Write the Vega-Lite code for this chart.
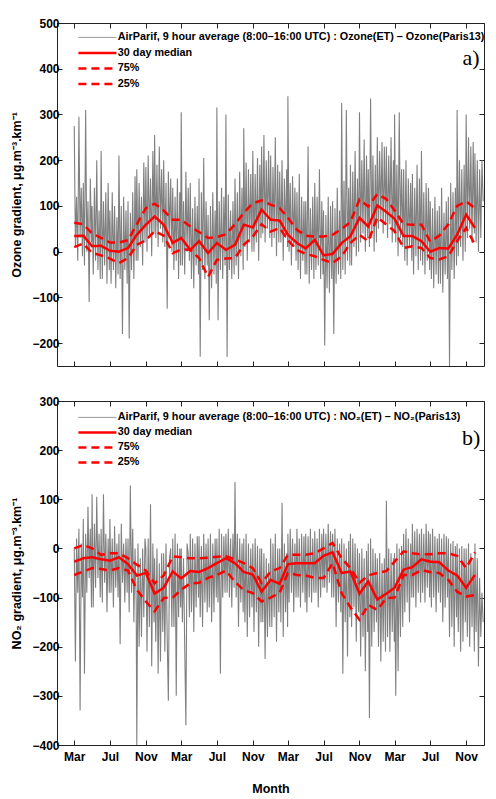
{
  "$schema": "https://vega.github.io/schema/vega-lite/v6.json",
  "background": "white",
  "padding": {"left": 10, "top": 16, "right": 5, "bottom": 5},
  "config": {
    "font": "Liberation Sans",
    "view": {"stroke": "#222", "strokeWidth": 1},
    "axis": {
      "domain": false, "grid": false, "ticks": true, "tickSize": -5, "tickColor": "#222", "tickWidth": 1,
      "labelFont": "Liberation Sans", "labelFontSize": 12, "labelFontWeight": "bold", "labelColor": "#000",
      "titleFont": "Liberation Sans", "titleFontSize": 12.5, "titleFontWeight": "bold", "titleColor": "#000"
    },
    "legend": {
      "orient": "none", "title": null, "symbolType": "stroke", "symbolSize": 1444,
      "labelFont": "Liberation Sans", "labelFontSize": 10.8, "labelFontWeight": "bold", "labelColor": "#000",
      "labelLimit": 1000, "labelOffset": 15, "padding": 0
    }
  },
  "datasets": {
    "ozoneDaily": [
      {"d":"2007-03-01","g":275},{"d":"2007-03-05","g":10},{"d":"2007-03-09","g":120},{"d":"2007-03-13","g":-20},{"d":"2007-03-17","g":295},{"d":"2007-03-21","g":30},{"d":"2007-03-25","g":140},{"d":"2007-03-29","g":-10},
      {"d":"2007-04-01","g":150},{"d":"2007-04-05","g":-30},{"d":"2007-04-09","g":310},{"d":"2007-04-13","g":0},{"d":"2007-04-17","g":110},{"d":"2007-04-21","g":-110},{"d":"2007-04-25","g":160},{"d":"2007-04-29","g":20},
      {"d":"2007-05-01","g":100},{"d":"2007-05-05","g":-50},{"d":"2007-05-09","g":140},{"d":"2007-05-13","g":-20},{"d":"2007-05-17","g":200},{"d":"2007-05-21","g":-40},{"d":"2007-05-25","g":90},{"d":"2007-05-29","g":-60},
      {"d":"2007-06-01","g":220},{"d":"2007-06-05","g":-60},{"d":"2007-06-09","g":110},{"d":"2007-06-13","g":-30},{"d":"2007-06-17","g":130},{"d":"2007-06-21","g":-70},{"d":"2007-06-25","g":150},{"d":"2007-06-29","g":-40},
      {"d":"2007-07-01","g":90},{"d":"2007-07-05","g":-70},{"d":"2007-07-09","g":130},{"d":"2007-07-13","g":-40},{"d":"2007-07-17","g":100},{"d":"2007-07-21","g":-80},{"d":"2007-07-25","g":75},{"d":"2007-07-29","g":-50},
      {"d":"2007-08-01","g":210},{"d":"2007-08-05","g":-60},{"d":"2007-08-09","g":100},{"d":"2007-08-13","g":-180},{"d":"2007-08-17","g":120},{"d":"2007-08-21","g":-40},{"d":"2007-08-25","g":90},{"d":"2007-08-29","g":-70},
      {"d":"2007-09-01","g":110},{"d":"2007-09-05","g":-190},{"d":"2007-09-09","g":85},{"d":"2007-09-13","g":-40},{"d":"2007-09-17","g":130},{"d":"2007-09-21","g":-60},{"d":"2007-09-25","g":165},{"d":"2007-09-29","g":-20},
      {"d":"2007-10-01","g":180},{"d":"2007-10-05","g":-20},{"d":"2007-10-09","g":150},{"d":"2007-10-13","g":10},{"d":"2007-10-17","g":120},{"d":"2007-10-21","g":-30},{"d":"2007-10-25","g":195},{"d":"2007-10-29","g":20},
      {"d":"2007-11-01","g":185},{"d":"2007-11-05","g":0},{"d":"2007-11-09","g":210},{"d":"2007-11-13","g":30},{"d":"2007-11-17","g":160},{"d":"2007-11-21","g":-10},{"d":"2007-11-25","g":220},{"d":"2007-11-29","g":40},
      {"d":"2007-12-01","g":255},{"d":"2007-12-05","g":30},{"d":"2007-12-09","g":190},{"d":"2007-12-13","g":10},{"d":"2007-12-17","g":230},{"d":"2007-12-21","g":50},{"d":"2007-12-25","g":180},{"d":"2007-12-29","g":20},
      {"d":"2008-01-01","g":200},{"d":"2008-01-05","g":10},{"d":"2008-01-09","g":150},{"d":"2008-01-13","g":-125},{"d":"2008-01-17","g":175},{"d":"2008-01-21","g":30},{"d":"2008-01-25","g":160},{"d":"2008-01-29","g":0},
      {"d":"2008-02-01","g":140},{"d":"2008-02-05","g":-40},{"d":"2008-02-09","g":120},{"d":"2008-02-13","g":-20},{"d":"2008-02-17","g":160},{"d":"2008-02-21","g":-60},{"d":"2008-02-25","g":130},{"d":"2008-02-28","g":-30},
      {"d":"2008-03-01","g":305},{"d":"2008-03-05","g":-30},{"d":"2008-03-09","g":110},{"d":"2008-03-13","g":-50},{"d":"2008-03-17","g":175},{"d":"2008-03-21","g":0},{"d":"2008-03-25","g":140},{"d":"2008-03-29","g":-20},
      {"d":"2008-04-01","g":150},{"d":"2008-04-05","g":-60},{"d":"2008-04-09","g":95},{"d":"2008-04-13","g":-80},{"d":"2008-04-17","g":120},{"d":"2008-04-21","g":-30},{"d":"2008-04-25","g":100},{"d":"2008-04-29","g":-50},
      {"d":"2008-05-01","g":160},{"d":"2008-05-05","g":-230},{"d":"2008-05-09","g":130},{"d":"2008-05-13","g":-40},{"d":"2008-05-17","g":205},{"d":"2008-05-21","g":-60},{"d":"2008-05-25","g":110},{"d":"2008-05-29","g":-30},
      {"d":"2008-06-01","g":80},{"d":"2008-06-05","g":-150},{"d":"2008-06-09","g":100},{"d":"2008-06-13","g":-80},{"d":"2008-06-17","g":130},{"d":"2008-06-21","g":-50},{"d":"2008-06-25","g":90},{"d":"2008-06-29","g":-70},
      {"d":"2008-07-01","g":315},{"d":"2008-07-05","g":-150},{"d":"2008-07-09","g":110},{"d":"2008-07-13","g":-40},{"d":"2008-07-17","g":140},{"d":"2008-07-21","g":-60},{"d":"2008-07-25","g":120},{"d":"2008-07-29","g":-30},
      {"d":"2008-08-01","g":300},{"d":"2008-08-05","g":-230},{"d":"2008-08-09","g":125},{"d":"2008-08-13","g":-40},{"d":"2008-08-17","g":90},{"d":"2008-08-21","g":-60},{"d":"2008-08-25","g":110},{"d":"2008-08-29","g":-50},
      {"d":"2008-09-01","g":160},{"d":"2008-09-05","g":-30},{"d":"2008-09-09","g":130},{"d":"2008-09-13","g":-60},{"d":"2008-09-17","g":175},{"d":"2008-09-21","g":-10},{"d":"2008-09-25","g":140},{"d":"2008-09-29","g":-40},
      {"d":"2008-10-01","g":270},{"d":"2008-10-05","g":10},{"d":"2008-10-09","g":195},{"d":"2008-10-13","g":-20},{"d":"2008-10-17","g":180},{"d":"2008-10-21","g":20},{"d":"2008-10-25","g":170},{"d":"2008-10-29","g":0},
      {"d":"2008-11-01","g":220},{"d":"2008-11-05","g":0},{"d":"2008-11-09","g":170},{"d":"2008-11-13","g":20},{"d":"2008-11-17","g":205},{"d":"2008-11-21","g":-20},{"d":"2008-11-25","g":190},{"d":"2008-11-29","g":30},
      {"d":"2008-12-01","g":230},{"d":"2008-12-05","g":40},{"d":"2008-12-09","g":255},{"d":"2008-12-13","g":20},{"d":"2008-12-17","g":200},{"d":"2008-12-21","g":50},{"d":"2008-12-25","g":220},{"d":"2008-12-29","g":30},
      {"d":"2009-01-01","g":210},{"d":"2009-01-05","g":10},{"d":"2009-01-09","g":185},{"d":"2009-01-13","g":30},{"d":"2009-01-17","g":250},{"d":"2009-01-21","g":-10},{"d":"2009-01-25","g":190},{"d":"2009-01-29","g":20},
      {"d":"2009-02-01","g":175},{"d":"2009-02-05","g":20},{"d":"2009-02-09","g":200},{"d":"2009-02-13","g":-20},{"d":"2009-02-17","g":160},{"d":"2009-02-21","g":30},{"d":"2009-02-25","g":180},{"d":"2009-02-28","g":10},
      {"d":"2009-03-01","g":340},{"d":"2009-03-05","g":0},{"d":"2009-03-09","g":150},{"d":"2009-03-13","g":-30},{"d":"2009-03-17","g":165},{"d":"2009-03-21","g":10},{"d":"2009-03-25","g":140},{"d":"2009-03-29","g":-20},
      {"d":"2009-04-01","g":130},{"d":"2009-04-05","g":-40},{"d":"2009-04-09","g":170},{"d":"2009-04-13","g":-60},{"d":"2009-04-17","g":120},{"d":"2009-04-21","g":-20},{"d":"2009-04-25","g":110},{"d":"2009-04-29","g":-50},
      {"d":"2009-05-01","g":110},{"d":"2009-05-05","g":-50},{"d":"2009-05-09","g":230},{"d":"2009-05-13","g":-70},{"d":"2009-05-17","g":95},{"d":"2009-05-21","g":-40},{"d":"2009-05-25","g":120},{"d":"2009-05-29","g":-60},
      {"d":"2009-06-01","g":150},{"d":"2009-06-05","g":-40},{"d":"2009-06-09","g":120},{"d":"2009-06-13","g":-30},{"d":"2009-06-17","g":180},{"d":"2009-06-21","g":-60},{"d":"2009-06-25","g":110},{"d":"2009-06-29","g":-50},
      {"d":"2009-07-01","g":90},{"d":"2009-07-05","g":-205},{"d":"2009-07-09","g":80},{"d":"2009-07-13","g":-80},{"d":"2009-07-17","g":120},{"d":"2009-07-21","g":-90},{"d":"2009-07-25","g":100},{"d":"2009-07-29","g":-60},
      {"d":"2009-08-01","g":110},{"d":"2009-08-05","g":-180},{"d":"2009-08-09","g":95},{"d":"2009-08-13","g":-70},{"d":"2009-08-17","g":140},{"d":"2009-08-21","g":-50},{"d":"2009-08-25","g":90},{"d":"2009-08-29","g":-60},
      {"d":"2009-09-01","g":325},{"d":"2009-09-05","g":-40},{"d":"2009-09-09","g":155},{"d":"2009-09-13","g":-50},{"d":"2009-09-17","g":310},{"d":"2009-09-21","g":-20},{"d":"2009-09-25","g":140},{"d":"2009-09-29","g":-30},
      {"d":"2009-10-01","g":190},{"d":"2009-10-05","g":-30},{"d":"2009-10-09","g":175},{"d":"2009-10-13","g":10},{"d":"2009-10-17","g":220},{"d":"2009-10-21","g":-10},{"d":"2009-10-25","g":160},{"d":"2009-10-29","g":0},
      {"d":"2009-11-01","g":305},{"d":"2009-11-05","g":20},{"d":"2009-11-09","g":200},{"d":"2009-11-13","g":40},{"d":"2009-11-17","g":245},{"d":"2009-11-21","g":0},{"d":"2009-11-25","g":210},{"d":"2009-11-29","g":30},
      {"d":"2009-12-01","g":180},{"d":"2009-12-05","g":10},{"d":"2009-12-09","g":335},{"d":"2009-12-13","g":30},{"d":"2009-12-17","g":210},{"d":"2009-12-21","g":0},{"d":"2009-12-25","g":190},{"d":"2009-12-29","g":20},
      {"d":"2010-01-01","g":250},{"d":"2010-01-05","g":50},{"d":"2010-01-09","g":220},{"d":"2010-01-13","g":70},{"d":"2010-01-17","g":240},{"d":"2010-01-21","g":40},{"d":"2010-01-25","g":230},{"d":"2010-01-29","g":60},
      {"d":"2010-02-01","g":230},{"d":"2010-02-05","g":30},{"d":"2010-02-09","g":210},{"d":"2010-02-13","g":60},{"d":"2010-02-17","g":250},{"d":"2010-02-21","g":20},{"d":"2010-02-25","g":200},{"d":"2010-02-28","g":40},
      {"d":"2010-03-01","g":300},{"d":"2010-03-05","g":20},{"d":"2010-03-09","g":190},{"d":"2010-03-13","g":-10},{"d":"2010-03-17","g":305},{"d":"2010-03-21","g":30},{"d":"2010-03-25","g":180},{"d":"2010-03-29","g":10},
      {"d":"2010-04-01","g":180},{"d":"2010-04-05","g":-20},{"d":"2010-04-09","g":200},{"d":"2010-04-13","g":-30},{"d":"2010-04-17","g":160},{"d":"2010-04-21","g":10},{"d":"2010-04-25","g":150},{"d":"2010-04-29","g":-20},
      {"d":"2010-05-01","g":170},{"d":"2010-05-05","g":-50},{"d":"2010-05-09","g":140},{"d":"2010-05-13","g":-10},{"d":"2010-05-17","g":190},{"d":"2010-05-21","g":-40},{"d":"2010-05-25","g":160},{"d":"2010-05-29","g":-20},
      {"d":"2010-06-01","g":220},{"d":"2010-06-05","g":-30},{"d":"2010-06-09","g":130},{"d":"2010-06-13","g":-50},{"d":"2010-06-17","g":150},{"d":"2010-06-21","g":-20},{"d":"2010-06-25","g":140},{"d":"2010-06-29","g":-40},
      {"d":"2010-07-01","g":110},{"d":"2010-07-05","g":-60},{"d":"2010-07-09","g":95},{"d":"2010-07-13","g":-80},{"d":"2010-07-17","g":120},{"d":"2010-07-21","g":-50},{"d":"2010-07-25","g":90},{"d":"2010-07-29","g":-70},
      {"d":"2010-08-01","g":100},{"d":"2010-08-05","g":-70},{"d":"2010-08-09","g":140},{"d":"2010-08-13","g":-90},{"d":"2010-08-17","g":85},{"d":"2010-08-21","g":-50},{"d":"2010-08-25","g":110},{"d":"2010-08-29","g":-60},
      {"d":"2010-09-01","g":120},{"d":"2010-09-05","g":-250},{"d":"2010-09-09","g":150},{"d":"2010-09-13","g":-40},{"d":"2010-09-17","g":130},{"d":"2010-09-21","g":-60},{"d":"2010-09-25","g":140},{"d":"2010-09-29","g":-30},
      {"d":"2010-10-01","g":310},{"d":"2010-10-05","g":-10},{"d":"2010-10-09","g":200},{"d":"2010-10-13","g":10},{"d":"2010-10-17","g":180},{"d":"2010-10-21","g":-20},{"d":"2010-10-25","g":190},{"d":"2010-10-29","g":0},
      {"d":"2010-11-01","g":300},{"d":"2010-11-05","g":30},{"d":"2010-11-09","g":250},{"d":"2010-11-13","g":50},{"d":"2010-11-17","g":230},{"d":"2010-11-21","g":20},{"d":"2010-11-25","g":240},{"d":"2010-11-29","g":40},
      {"d":"2010-12-01","g":215},{"d":"2010-12-05","g":20},{"d":"2010-12-09","g":200},{"d":"2010-12-13","g":0},{"d":"2010-12-17","g":180},{"d":"2010-12-21","g":30},{"d":"2010-12-25","g":200},{"d":"2010-12-29","g":110}
    ],
    "ozoneMonthly": [
      {"d":"2007-03-01","m":34,"u":63,"l":10},{"d":"2007-04-01","m":35,"u":60,"l":18},{"d":"2007-05-01","m":12,"u":40,"l":-3},{"d":"2007-06-01","m":13,"u":30,"l":-8},
      {"d":"2007-07-01","m":2,"u":20,"l":-15},{"d":"2007-08-01","m":0,"u":20,"l":-25},{"d":"2007-09-01","m":8,"u":25,"l":-14},{"d":"2007-10-01","m":37,"u":60,"l":15},
      {"d":"2007-11-01","m":59,"u":95,"l":25},{"d":"2007-12-01","m":77,"u":105,"l":45},{"d":"2008-01-01","m":59,"u":90,"l":35},{"d":"2008-02-01","m":19,"u":70,"l":-3},
      {"d":"2008-03-01","m":30,"u":70,"l":5},{"d":"2008-04-01","m":4,"u":55,"l":4},{"d":"2008-05-01","m":23,"u":43,"l":-14},{"d":"2008-06-01","m":-3,"u":30,"l":-55},
      {"d":"2008-07-01","m":19,"u":32,"l":-18},{"d":"2008-08-01","m":4,"u":38,"l":-15},{"d":"2008-09-01","m":15,"u":60,"l":-14},{"d":"2008-10-01","m":59,"u":85,"l":15},
      {"d":"2008-11-01","m":53,"u":106,"l":33},{"d":"2008-12-01","m":92,"u":112,"l":60},{"d":"2009-01-01","m":70,"u":103,"l":44},{"d":"2009-02-01","m":68,"u":95,"l":52},
      {"d":"2009-03-01","m":37,"u":74,"l":25},{"d":"2009-04-01","m":19,"u":48,"l":4},{"d":"2009-05-01","m":7,"u":35,"l":-5},{"d":"2009-06-01","m":26,"u":33,"l":-10},
      {"d":"2009-07-01","m":-8,"u":33,"l":-18},{"d":"2009-08-01","m":-5,"u":37,"l":-25},{"d":"2009-09-01","m":19,"u":50,"l":-10},{"d":"2009-10-01","m":34,"u":65,"l":19},
      {"d":"2009-11-01","m":74,"u":114,"l":37},{"d":"2009-12-01","m":55,"u":99,"l":23},{"d":"2010-01-01","m":101,"u":126,"l":75},{"d":"2010-02-01","m":87,"u":115,"l":59},
      {"d":"2010-03-01","m":72,"u":90,"l":45},{"d":"2010-04-01","m":34,"u":60,"l":8},{"d":"2010-05-01","m":34,"u":59,"l":12},{"d":"2010-06-01","m":23,"u":59,"l":8},
      {"d":"2010-07-01","m":0,"u":22,"l":-14},{"d":"2010-08-01","m":8,"u":35,"l":-17},{"d":"2010-09-01","m":7,"u":60,"l":-10},{"d":"2010-10-01","m":37,"u":100,"l":23},
      {"d":"2010-11-01","m":81,"u":110,"l":52},{"d":"2010-12-01","m":52,"u":95,"l":15}
    ],
    "no2Daily": [
      {"d":"2007-03-01","g":0},{"d":"2007-03-05","g":-230},{"d":"2007-03-09","g":20},{"d":"2007-03-13","g":-90},{"d":"2007-03-17","g":40},{"d":"2007-03-21","g":-330},{"d":"2007-03-25","g":10},{"d":"2007-03-29","g":-100},
      {"d":"2007-04-01","g":60},{"d":"2007-04-05","g":-255},{"d":"2007-04-09","g":30},{"d":"2007-04-13","g":-90},{"d":"2007-04-17","g":85},{"d":"2007-04-21","g":-60},{"d":"2007-04-25","g":40},{"d":"2007-04-29","g":-120},
      {"d":"2007-05-01","g":110},{"d":"2007-05-05","g":-120},{"d":"2007-05-09","g":50},{"d":"2007-05-13","g":-80},{"d":"2007-05-17","g":105},{"d":"2007-05-21","g":-60},{"d":"2007-05-25","g":30},{"d":"2007-05-29","g":-100},
      {"d":"2007-06-01","g":40},{"d":"2007-06-05","g":-110},{"d":"2007-06-09","g":110},{"d":"2007-06-13","g":-70},{"d":"2007-06-17","g":30},{"d":"2007-06-21","g":-130},{"d":"2007-06-25","g":20},{"d":"2007-06-29","g":-90},
      {"d":"2007-07-01","g":60},{"d":"2007-07-05","g":-90},{"d":"2007-07-09","g":20},{"d":"2007-07-13","g":-120},{"d":"2007-07-17","g":45},{"d":"2007-07-21","g":-80},{"d":"2007-07-25","g":10},{"d":"2007-07-29","g":-100},
      {"d":"2007-08-01","g":30},{"d":"2007-08-05","g":-195},{"d":"2007-08-09","g":50},{"d":"2007-08-13","g":-70},{"d":"2007-08-17","g":10},{"d":"2007-08-21","g":-110},{"d":"2007-08-25","g":20},{"d":"2007-08-29","g":-90},
      {"d":"2007-09-01","g":20},{"d":"2007-09-05","g":-130},{"d":"2007-09-09","g":128},{"d":"2007-09-13","g":-90},{"d":"2007-09-17","g":40},{"d":"2007-09-21","g":-150},{"d":"2007-09-25","g":0},{"d":"2007-09-29","g":-110},
      {"d":"2007-10-01","g":-400},{"d":"2007-10-05","g":10},{"d":"2007-10-09","g":-200},{"d":"2007-10-13","g":-20},{"d":"2007-10-17","g":-180},{"d":"2007-10-21","g":0},{"d":"2007-10-25","g":-140},{"d":"2007-10-29","g":20},
      {"d":"2007-11-01","g":0},{"d":"2007-11-05","g":-210},{"d":"2007-11-09","g":20},{"d":"2007-11-13","g":-160},{"d":"2007-11-17","g":90},{"d":"2007-11-21","g":-240},{"d":"2007-11-25","g":10},{"d":"2007-11-29","g":-150},
      {"d":"2007-12-01","g":-20},{"d":"2007-12-05","g":-190},{"d":"2007-12-09","g":0},{"d":"2007-12-13","g":-255},{"d":"2007-12-17","g":-30},{"d":"2007-12-21","g":-230},{"d":"2007-12-25","g":-10},{"d":"2007-12-29","g":-170},
      {"d":"2008-01-01","g":-10},{"d":"2008-01-05","g":-210},{"d":"2008-01-09","g":10},{"d":"2008-01-13","g":-180},{"d":"2008-01-17","g":-310},{"d":"2008-01-21","g":-20},{"d":"2008-01-25","g":0},{"d":"2008-01-29","g":-160},
      {"d":"2008-02-01","g":20},{"d":"2008-02-05","g":-160},{"d":"2008-02-09","g":30},{"d":"2008-02-13","g":-300},{"d":"2008-02-17","g":10},{"d":"2008-02-21","g":-140},{"d":"2008-02-25","g":0},{"d":"2008-02-28","g":-120},
      {"d":"2008-03-01","g":0},{"d":"2008-03-05","g":-150},{"d":"2008-03-09","g":-20},{"d":"2008-03-13","g":-200},{"d":"2008-03-17","g":-360},{"d":"2008-03-21","g":10},{"d":"2008-03-25","g":-10},{"d":"2008-03-29","g":-140},
      {"d":"2008-04-01","g":30},{"d":"2008-04-05","g":-130},{"d":"2008-04-09","g":20},{"d":"2008-04-13","g":-170},{"d":"2008-04-17","g":10},{"d":"2008-04-21","g":-120},{"d":"2008-04-25","g":25},{"d":"2008-04-29","g":-100},
      {"d":"2008-05-01","g":25},{"d":"2008-05-05","g":-140},{"d":"2008-05-09","g":5},{"d":"2008-05-13","g":-160},{"d":"2008-05-17","g":30},{"d":"2008-05-21","g":-110},{"d":"2008-05-25","g":10},{"d":"2008-05-29","g":-130},
      {"d":"2008-06-01","g":20},{"d":"2008-06-05","g":-120},{"d":"2008-06-09","g":30},{"d":"2008-06-13","g":-150},{"d":"2008-06-17","g":10},{"d":"2008-06-21","g":-130},{"d":"2008-06-25","g":20},{"d":"2008-06-29","g":-100},
      {"d":"2008-07-01","g":20},{"d":"2008-07-05","g":-110},{"d":"2008-07-09","g":40},{"d":"2008-07-13","g":-255},{"d":"2008-07-17","g":30},{"d":"2008-07-21","g":-100},{"d":"2008-07-25","g":25},{"d":"2008-07-29","g":-90},
      {"d":"2008-08-01","g":30},{"d":"2008-08-05","g":-90},{"d":"2008-08-09","g":40},{"d":"2008-08-13","g":-100},{"d":"2008-08-17","g":20},{"d":"2008-08-21","g":-120},{"d":"2008-08-25","g":30},{"d":"2008-08-29","g":-80},
      {"d":"2008-09-01","g":135},{"d":"2008-09-05","g":-100},{"d":"2008-09-09","g":30},{"d":"2008-09-13","g":-160},{"d":"2008-09-17","g":20},{"d":"2008-09-21","g":-110},{"d":"2008-09-25","g":10},{"d":"2008-09-29","g":-130},
      {"d":"2008-10-01","g":20},{"d":"2008-10-05","g":-150},{"d":"2008-10-09","g":30},{"d":"2008-10-13","g":-180},{"d":"2008-10-17","g":10},{"d":"2008-10-21","g":-140},{"d":"2008-10-25","g":0},{"d":"2008-10-29","g":-120},
      {"d":"2008-11-01","g":10},{"d":"2008-11-05","g":-170},{"d":"2008-11-09","g":20},{"d":"2008-11-13","g":-130},{"d":"2008-11-17","g":5},{"d":"2008-11-21","g":-200},{"d":"2008-11-25","g":0},{"d":"2008-11-29","g":-150},
      {"d":"2008-12-01","g":0},{"d":"2008-12-05","g":-150},{"d":"2008-12-09","g":-10},{"d":"2008-12-13","g":-225},{"d":"2008-12-17","g":-20},{"d":"2008-12-21","g":-180},{"d":"2008-12-25","g":-30},{"d":"2008-12-29","g":-160},
      {"d":"2009-01-01","g":20},{"d":"2009-01-05","g":-160},{"d":"2009-01-09","g":10},{"d":"2009-01-13","g":-140},{"d":"2009-01-17","g":30},{"d":"2009-01-21","g":-190},{"d":"2009-01-25","g":0},{"d":"2009-01-29","g":-130},
      {"d":"2009-02-01","g":0},{"d":"2009-02-05","g":-150},{"d":"2009-02-09","g":93},{"d":"2009-02-13","g":-180},{"d":"2009-02-17","g":10},{"d":"2009-02-21","g":-130},{"d":"2009-02-25","g":-10},{"d":"2009-02-28","g":-160},
      {"d":"2009-03-01","g":30},{"d":"2009-03-05","g":-110},{"d":"2009-03-09","g":40},{"d":"2009-03-13","g":-90},{"d":"2009-03-17","g":20},{"d":"2009-03-21","g":-130},{"d":"2009-03-25","g":10},{"d":"2009-03-29","g":-100},
      {"d":"2009-04-01","g":40},{"d":"2009-04-05","g":-100},{"d":"2009-04-09","g":20},{"d":"2009-04-13","g":-120},{"d":"2009-04-17","g":30},{"d":"2009-04-21","g":-90},{"d":"2009-04-25","g":25},{"d":"2009-04-29","g":-110},
      {"d":"2009-05-01","g":30},{"d":"2009-05-05","g":-130},{"d":"2009-05-09","g":25},{"d":"2009-05-13","g":-100},{"d":"2009-05-17","g":40},{"d":"2009-05-21","g":-110},{"d":"2009-05-25","g":20},{"d":"2009-05-29","g":-90},
      {"d":"2009-06-01","g":35},{"d":"2009-06-05","g":-90},{"d":"2009-06-09","g":20},{"d":"2009-06-13","g":-120},{"d":"2009-06-17","g":40},{"d":"2009-06-21","g":-100},{"d":"2009-06-25","g":30},{"d":"2009-06-29","g":-80},
      {"d":"2009-07-01","g":40},{"d":"2009-07-05","g":-80},{"d":"2009-07-09","g":30},{"d":"2009-07-13","g":-90},{"d":"2009-07-17","g":50},{"d":"2009-07-21","g":-70},{"d":"2009-07-25","g":35},{"d":"2009-07-29","g":-100},
      {"d":"2009-08-01","g":30},{"d":"2009-08-05","g":-100},{"d":"2009-08-09","g":40},{"d":"2009-08-13","g":-160},{"d":"2009-08-17","g":20},{"d":"2009-08-21","g":-110},{"d":"2009-08-25","g":10},{"d":"2009-08-29","g":-130},
      {"d":"2009-09-01","g":20},{"d":"2009-09-05","g":-255},{"d":"2009-09-09","g":10},{"d":"2009-09-13","g":-150},{"d":"2009-09-17","g":0},{"d":"2009-09-21","g":-220},{"d":"2009-09-25","g":15},{"d":"2009-09-29","g":-140},
      {"d":"2009-10-01","g":30},{"d":"2009-10-05","g":-160},{"d":"2009-10-09","g":20},{"d":"2009-10-13","g":-120},{"d":"2009-10-17","g":10},{"d":"2009-10-21","g":-190},{"d":"2009-10-25","g":0},{"d":"2009-10-29","g":-130},
      {"d":"2009-11-01","g":-10},{"d":"2009-11-05","g":-220},{"d":"2009-11-09","g":0},{"d":"2009-11-13","g":-180},{"d":"2009-11-17","g":-20},{"d":"2009-11-21","g":-250},{"d":"2009-11-25","g":-5},{"d":"2009-11-29","g":-170},
      {"d":"2009-12-01","g":10},{"d":"2009-12-05","g":-345},{"d":"2009-12-09","g":20},{"d":"2009-12-13","g":-200},{"d":"2009-12-17","g":0},{"d":"2009-12-21","g":-170},{"d":"2009-12-25","g":-10},{"d":"2009-12-29","g":-150},
      {"d":"2010-01-01","g":-20},{"d":"2010-01-05","g":-200},{"d":"2010-01-09","g":-10},{"d":"2010-01-13","g":-230},{"d":"2010-01-17","g":-30},{"d":"2010-01-21","g":-190},{"d":"2010-01-25","g":-20},{"d":"2010-01-29","g":-210},
      {"d":"2010-02-01","g":97},{"d":"2010-02-05","g":-180},{"d":"2010-02-09","g":0},{"d":"2010-02-13","g":-210},{"d":"2010-02-17","g":-10},{"d":"2010-02-21","g":-170},{"d":"2010-02-25","g":-20},{"d":"2010-02-28","g":-190},
      {"d":"2010-03-01","g":-10},{"d":"2010-03-05","g":-300},{"d":"2010-03-09","g":10},{"d":"2010-03-13","g":-250},{"d":"2010-03-17","g":0},{"d":"2010-03-21","g":-180},{"d":"2010-03-25","g":5},{"d":"2010-03-29","g":-160},
      {"d":"2010-04-01","g":30},{"d":"2010-04-05","g":-130},{"d":"2010-04-09","g":40},{"d":"2010-04-13","g":-110},{"d":"2010-04-17","g":20},{"d":"2010-04-21","g":-150},{"d":"2010-04-25","g":10},{"d":"2010-04-29","g":-100},
      {"d":"2010-05-01","g":50},{"d":"2010-05-05","g":-100},{"d":"2010-05-09","g":35},{"d":"2010-05-13","g":-120},{"d":"2010-05-17","g":40},{"d":"2010-05-21","g":-90},{"d":"2010-05-25","g":30},{"d":"2010-05-29","g":-110},
      {"d":"2010-06-01","g":40},{"d":"2010-06-05","g":-90},{"d":"2010-06-09","g":30},{"d":"2010-06-13","g":-110},{"d":"2010-06-17","g":50},{"d":"2010-06-21","g":-80},{"d":"2010-06-25","g":35},{"d":"2010-06-29","g":-100},
      {"d":"2010-07-01","g":30},{"d":"2010-07-05","g":-120},{"d":"2010-07-09","g":40},{"d":"2010-07-13","g":-100},{"d":"2010-07-17","g":25},{"d":"2010-07-21","g":-130},{"d":"2010-07-25","g":20},{"d":"2010-07-29","g":-90},
      {"d":"2010-08-01","g":30},{"d":"2010-08-05","g":-110},{"d":"2010-08-09","g":20},{"d":"2010-08-13","g":-150},{"d":"2010-08-17","g":30},{"d":"2010-08-21","g":-120},{"d":"2010-08-25","g":25},{"d":"2010-08-29","g":-100},
      {"d":"2010-09-01","g":20},{"d":"2010-09-05","g":-180},{"d":"2010-09-09","g":10},{"d":"2010-09-13","g":-160},{"d":"2010-09-17","g":15},{"d":"2010-09-21","g":-200},{"d":"2010-09-25","g":5},{"d":"2010-09-29","g":-140},
      {"d":"2010-10-01","g":10},{"d":"2010-10-05","g":-170},{"d":"2010-10-09","g":0},{"d":"2010-10-13","g":-210},{"d":"2010-10-17","g":5},{"d":"2010-10-21","g":-190},{"d":"2010-10-25","g":0},{"d":"2010-10-29","g":-150},
      {"d":"2010-11-01","g":0},{"d":"2010-11-05","g":-180},{"d":"2010-11-09","g":10},{"d":"2010-11-13","g":-200},{"d":"2010-11-17","g":-10},{"d":"2010-11-21","g":-160},{"d":"2010-11-25","g":-20},{"d":"2010-11-29","g":-210},
      {"d":"2010-12-01","g":10},{"d":"2010-12-05","g":-170},{"d":"2010-12-09","g":-20},{"d":"2010-12-13","g":-240},{"d":"2010-12-17","g":-60},{"d":"2010-12-21","g":-180},{"d":"2010-12-25","g":-90},{"d":"2010-12-29","g":-150}
    ],
    "no2Monthly": [
      {"d":"2007-03-01","m":-27,"u":0,"l":-54},{"d":"2007-04-01","m":-20,"u":7,"l":-47},{"d":"2007-05-01","m":-18,"u":0,"l":-40},{"d":"2007-06-01","m":-22,"u":-13,"l":-42},
      {"d":"2007-07-01","m":-25,"u":-10,"l":-45},{"d":"2007-08-01","m":-18,"u":-10,"l":-40},{"d":"2007-09-01","m":-32,"u":-20,"l":-45},{"d":"2007-10-01","m":-55,"u":-33,"l":-84},
      {"d":"2007-11-01","m":-50,"u":-45,"l":-108},{"d":"2007-12-01","m":-92,"u":-71,"l":-128},{"d":"2008-01-01","m":-80,"u":-55,"l":-101},{"d":"2008-02-01","m":-47,"u":-16,"l":-100},
      {"d":"2008-03-01","m":-61,"u":-18,"l":-84},{"d":"2008-04-01","m":-46,"u":-20,"l":-71},{"d":"2008-05-01","m":-48,"u":-20,"l":-70},{"d":"2008-06-01","m":-40,"u":-19,"l":-60},
      {"d":"2008-07-01","m":-30,"u":-17,"l":-54},{"d":"2008-08-01","m":-20,"u":-16,"l":-45},{"d":"2008-09-01","m":-30,"u":-22,"l":-68},{"d":"2008-10-01","m":-48,"u":-30,"l":-85},
      {"d":"2008-11-01","m":-53,"u":-40,"l":-91},{"d":"2008-12-01","m":-88,"u":-70,"l":-108},{"d":"2009-01-01","m":-64,"u":-47,"l":-100},{"d":"2009-02-01","m":-72,"u":-40,"l":-90},
      {"d":"2009-03-01","m":-32,"u":-13,"l":-50},{"d":"2009-04-01","m":-30,"u":-13,"l":-54},{"d":"2009-05-01","m":-30,"u":-13,"l":-55},{"d":"2009-06-01","m":-30,"u":-10,"l":-60},
      {"d":"2009-07-01","m":-15,"u":0,"l":-60},{"d":"2009-08-01","m":-8,"u":11,"l":-30},{"d":"2009-09-01","m":-50,"u":-20,"l":-91},{"d":"2009-10-01","m":-47,"u":-40,"l":-120},
      {"d":"2009-11-01","m":-92,"u":-70,"l":-145},{"d":"2009-12-01","m":-67,"u":-55,"l":-115},{"d":"2010-01-01","m":-104,"u":-50,"l":-125},{"d":"2010-02-01","m":-92,"u":-46,"l":-101},
      {"d":"2010-03-01","m":-80,"u":-27,"l":-100},{"d":"2010-04-01","m":-43,"u":-6,"l":-54},{"d":"2010-05-01","m":-38,"u":-10,"l":-54},{"d":"2010-06-01","m":-22,"u":-12,"l":-44},
      {"d":"2010-07-01","m":-27,"u":-12,"l":-48},{"d":"2010-08-01","m":-28,"u":-10,"l":-50},{"d":"2010-09-01","m":-45,"u":-10,"l":-64},{"d":"2010-10-01","m":-55,"u":-15,"l":-88},
      {"d":"2010-11-01","m":-80,"u":-40,"l":-98},{"d":"2010-12-01","m":-54,"u":-8,"l":-95}
    ],
    "panelTags": [
      {"panel": "a", "tag": "a)", "d": "2010-11-18", "v": 423},
      {"panel": "b", "tag": "b)", "d": "2010-11-18", "v": 225}
    ]
  },
  "vconcat": [
    {
      "width": 427,
      "height": 343,
      "layer": [
        {
          "data": {"name": "ozoneDaily"},
          "transform": [{"fold": ["g"], "as": ["s", "v"]}],
          "mark": {"type": "line", "clip": true, "strokeWidth": 1.1},
          "encoding": {
            "x": {"field": "d", "type": "temporal",
              "scale": {"domain": [{"year": 2007, "month": 1, "date": 1}, {"year": 2011, "month": 1, "date": 1}]},
              "axis": {"orient": "bottom", "labels": false, "title": null, "format": "%b",
                "values": [{"year":2007,"month":3,"date":1},{"year":2007,"month":7,"date":1},{"year":2007,"month":11,"date":1},
                           {"year":2008,"month":3,"date":1},{"year":2008,"month":7,"date":1},{"year":2008,"month":11,"date":1},
                           {"year":2009,"month":3,"date":1},{"year":2009,"month":7,"date":1},{"year":2009,"month":11,"date":1},
                           {"year":2010,"month":3,"date":1},{"year":2010,"month":7,"date":1},{"year":2010,"month":11,"date":1}]}},
            "y": {"field": "v", "type": "quantitative",
              "scale": {"domain": [-250, 500], "nice": false, "zero": false},
              "axis": {"orient": "left", "values": [-200, -100, 0, 100, 200, 300, 400, 500], "labelPadding": 3,
                "title": "Ozone gradient, μg.m⁻³.km⁻¹", "titlePadding": 8}},
            "color": {"field": "s", "type": "nominal",
              "scale": {"domain": ["g", "m", "u", "l"], "range": ["#808080", "#ff0000", "#ff0000", "#ff0000"]},
              "legend": {"legendX": 35, "legendY": 9, "rowPadding": 3.5,
                "labelExpr": "datum.label == 'g' ? 'AirParif, 9 hour average (8:00–16:00 UTC) : Ozone(ET) – Ozone(Paris13)' : datum.label == 'm' ? '30 day median' : datum.label == 'u' ? '75%' : '25%'",
                "encode": {"symbols": {"update": {"strokeWidth": {"signal": "datum.value == 'g' ? 1 : 2.5"}}}}}},
            "strokeDash": {"field": "s", "type": "nominal",
              "scale": {"domain": ["g", "m", "u", "l"], "range": [[1, 0], [1, 0], [8, 5], [8, 5]]}}
          }
        },
        {
          "data": {"name": "ozoneMonthly"},
          "transform": [{"fold": ["m", "u", "l"], "as": ["s", "v"]}],
          "mark": {"type": "line", "clip": true, "strokeWidth": 2.5},
          "encoding": {
            "x": {"field": "d", "type": "temporal",
              "axis": {"orient": "top", "labels": false, "title": null,
                "values": [{"year":2007,"month":3,"date":1},{"year":2007,"month":7,"date":1},{"year":2007,"month":11,"date":1},
                           {"year":2008,"month":3,"date":1},{"year":2008,"month":7,"date":1},{"year":2008,"month":11,"date":1},
                           {"year":2009,"month":3,"date":1},{"year":2009,"month":7,"date":1},{"year":2009,"month":11,"date":1},
                           {"year":2010,"month":3,"date":1},{"year":2010,"month":7,"date":1},{"year":2010,"month":11,"date":1}]}},
            "y": {"field": "v", "type": "quantitative",
              "axis": {"orient": "right", "labels": false, "title": null, "values": [-200, -100, 0, 100, 200, 300, 400, 500]}},
            "color": {"field": "s", "type": "nominal"},
            "strokeDash": {"field": "s", "type": "nominal"}
          }
        },
        {
          "mark": {"type": "rule", "color": "#000", "strokeWidth": 1.8},
          "encoding": {"y": {"datum": 0, "type": "quantitative", "axis": null}}
        },
        {
          "data": {"name": "panelTags"},
          "transform": [{"filter": "datum.panel == 'a'"}],
          "mark": {"type": "text", "font": "Liberation Serif", "fontSize": 22, "align": "center", "baseline": "middle", "color": "#000"},
          "encoding": {
            "x": {"field": "d", "type": "temporal", "axis": null},
            "y": {"field": "v", "type": "quantitative", "axis": null},
            "text": {"field": "tag"}
          }
        }
      ],
      "resolve": {"axis": {"x": "independent", "y": "independent"}}
    },
    {
      "width": 427,
      "height": 344,
      "layer": [
        {
          "data": {"name": "no2Daily"},
          "transform": [{"fold": ["g"], "as": ["s", "v"]}],
          "mark": {"type": "line", "clip": true, "strokeWidth": 1.1},
          "encoding": {
            "x": {"field": "d", "type": "temporal",
              "scale": {"domain": [{"year": 2007, "month": 1, "date": 1}, {"year": 2011, "month": 1, "date": 1}]},
              "axis": {"orient": "bottom", "format": "%b", "labelPadding": 11, "title": "Month", "titlePadding": 20,
                "values": [{"year":2007,"month":3,"date":1},{"year":2007,"month":7,"date":1},{"year":2007,"month":11,"date":1},
                           {"year":2008,"month":3,"date":1},{"year":2008,"month":7,"date":1},{"year":2008,"month":11,"date":1},
                           {"year":2009,"month":3,"date":1},{"year":2009,"month":7,"date":1},{"year":2009,"month":11,"date":1},
                           {"year":2010,"month":3,"date":1},{"year":2010,"month":7,"date":1},{"year":2010,"month":11,"date":1}]}},
            "y": {"field": "v", "type": "quantitative",
              "scale": {"domain": [-400, 300], "nice": false, "zero": false},
              "axis": {"orient": "left", "values": [-400, -300, -200, -100, 0, 100, 200, 300], "labelPadding": 3,
                "title": "NO₂ gradient, μg.m⁻³.km⁻¹", "titlePadding": 8}},
            "color": {"field": "s", "type": "nominal",
              "scale": {"domain": ["g", "m", "u", "l"], "range": ["#808080", "#ff0000", "#ff0000", "#ff0000"]},
              "legend": {"legendX": 35, "legendY": 11, "rowPadding": 3,
                "labelExpr": "datum.label == 'g' ? 'AirParif, 9 hour average (8:00–16:00 UTC) : NO₂(ET) – NO₂(Paris13)' : datum.label == 'm' ? '30 day median' : datum.label == 'u' ? '75%' : '25%'",
                "encode": {"symbols": {"update": {"strokeWidth": {"signal": "datum.value == 'g' ? 1 : 2.5"}}}}}},
            "strokeDash": {"field": "s", "type": "nominal",
              "scale": {"domain": ["g", "m", "u", "l"], "range": [[1, 0], [1, 0], [8, 5], [8, 5]]}}
          }
        },
        {
          "data": {"name": "no2Monthly"},
          "transform": [{"fold": ["m", "u", "l"], "as": ["s", "v"]}],
          "mark": {"type": "line", "clip": true, "strokeWidth": 2.5},
          "encoding": {
            "x": {"field": "d", "type": "temporal",
              "axis": {"orient": "top", "labels": false, "title": null,
                "values": [{"year":2007,"month":3,"date":1},{"year":2007,"month":7,"date":1},{"year":2007,"month":11,"date":1},
                           {"year":2008,"month":3,"date":1},{"year":2008,"month":7,"date":1},{"year":2008,"month":11,"date":1},
                           {"year":2009,"month":3,"date":1},{"year":2009,"month":7,"date":1},{"year":2009,"month":11,"date":1},
                           {"year":2010,"month":3,"date":1},{"year":2010,"month":7,"date":1},{"year":2010,"month":11,"date":1}]}},
            "y": {"field": "v", "type": "quantitative",
              "axis": {"orient": "right", "labels": false, "title": null, "values": [-400, -300, -200, -100, 0, 100, 200, 300]}},
            "color": {"field": "s", "type": "nominal"},
            "strokeDash": {"field": "s", "type": "nominal"}
          }
        },
        {
          "mark": {"type": "rule", "color": "#000", "strokeWidth": 1.8},
          "encoding": {"y": {"datum": -30, "type": "quantitative", "axis": null}}
        },
        {
          "data": {"name": "panelTags"},
          "transform": [{"filter": "datum.panel == 'b'"}],
          "mark": {"type": "text", "font": "Liberation Serif", "fontSize": 22, "align": "center", "baseline": "middle", "color": "#000"},
          "encoding": {
            "x": {"field": "d", "type": "temporal", "axis": null},
            "y": {"field": "v", "type": "quantitative", "axis": null},
            "text": {"field": "tag"}
          }
        }
      ],
      "resolve": {"axis": {"x": "independent", "y": "independent"}}
    }
  ],
  "spacing": 35,
  "bounds": "flush",
  "resolve": {"scale": {"color": "independent", "strokeDash": "independent"}}
}
